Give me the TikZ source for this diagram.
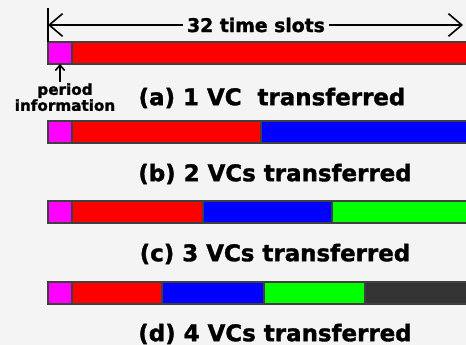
\documentclass[tikz,border=0pt]{standalone}
\usepackage{fontspec}
\setmainfont{DejaVu Sans}[BoldFeatures={FakeBold=1.5}]
\usetikzlibrary{arrows.meta}
\definecolor{bg}{HTML}{F4F4F4}
\definecolor{edge}{HTML}{404040}
\definecolor{vcred}{HTML}{FF0000}
\definecolor{vcblue}{HTML}{0000FF}
\definecolor{vcgreen}{HTML}{00FF00}
\definecolor{vcgray}{HTML}{333333}
\definecolor{vcmag}{HTML}{FF00FF}
\newlength{\pxu}
\setlength{\pxu}{0.75pt}
\tikzset{
  seg/.style={draw=edge, line width=0.9pt, rectangle, inner sep=0pt, outer sep=0pt,
              anchor=north west, minimum height=22\pxu},
  caption/.style={font=\bfseries\fontsize{17.2}{20}\selectfont, inner sep=0pt},
  dim/.style={line width=1.2pt, {Straight Barb[length=10pt,width=17pt]}-{Straight Barb[length=10pt,width=17pt]}},
}
\newcommand{\slot}[5]{% name, x-left, x-right, y-top, colour
  \pgfmathsetmacro{\slotw}{#3-#2}
  \node[seg, fill=#5, minimum width=\slotw\pxu] (#1) at (#2,#4) {};}
\begin{document}
\begin{tikzpicture}[x=0.75pt, y=-0.75pt]
  \fill[bg] (0,0) rectangle (466,345);
  \clip (0,0) rectangle (466,345);
  \useasboundingbox (0,0) rectangle (466,345);

  % (a) one VC
  \slot{ar}{72}{470}{42}{vcred}
  \slot{am}{48}{72}{42}{vcmag}
  % (b) two VCs
  \slot{br}{72}{261}{121}{vcred}
  \slot{bb}{261}{470}{121}{vcblue}
  \slot{bm}{48}{72}{121}{vcmag}
  % (c) three VCs
  \slot{cr}{72}{203}{201}{vcred}
  \slot{cb}{203}{332}{201}{vcblue}
  \slot{cg}{332}{470}{201}{vcgreen}
  \slot{cm}{48}{72}{201}{vcmag}
  % (d) four VCs
  \slot{dr}{72}{162}{282}{vcred}
  \slot{db}{162}{264}{282}{vcblue}
  \slot{dg}{264}{365}{282}{vcgreen}
  \slot{dk}{365}{470}{282}{vcgray}
  \slot{dm}{48}{72}{282}{vcmag}

  % frame length
  \coordinate (tl) at (48,8);
  \coordinate (l) at (48,25);
  \coordinate (r) at (463,25);
  \draw[line width=1.2pt] (tl) -- (am.north west);
  \draw[dim] (l) -- (r);
  \node[font=\bfseries\fontsize{14.1}{16}\selectfont, fill=bg, inner xsep=3pt, inner ysep=1pt] (slots) at (256,25) {32 time slots};

  % period information marker
  \node[font=\bfseries\fontsize{11.4}{12}\selectfont, align=center, inner sep=0pt, anchor=north] (per) at (65,83) {period\\information};
  \draw[line width=1.2pt, -{Straight Barb[length=4pt,width=7pt]}] (per.north -| am.south) ++(0,-1) -- (am.south);

  % captions
  \node[caption] (ca) at (272,98) {(a) 1 VC\ \ transferred};
  \node[caption] (cbt) at (275,174) {(b) 2 VCs transferred};
  \node[caption] (cct) at (275,254) {(c) 3 VCs transferred};
  \node[caption] (cdt) at (275,334) {(d) 4 VCs transferred};
\end{tikzpicture}
\end{document}
